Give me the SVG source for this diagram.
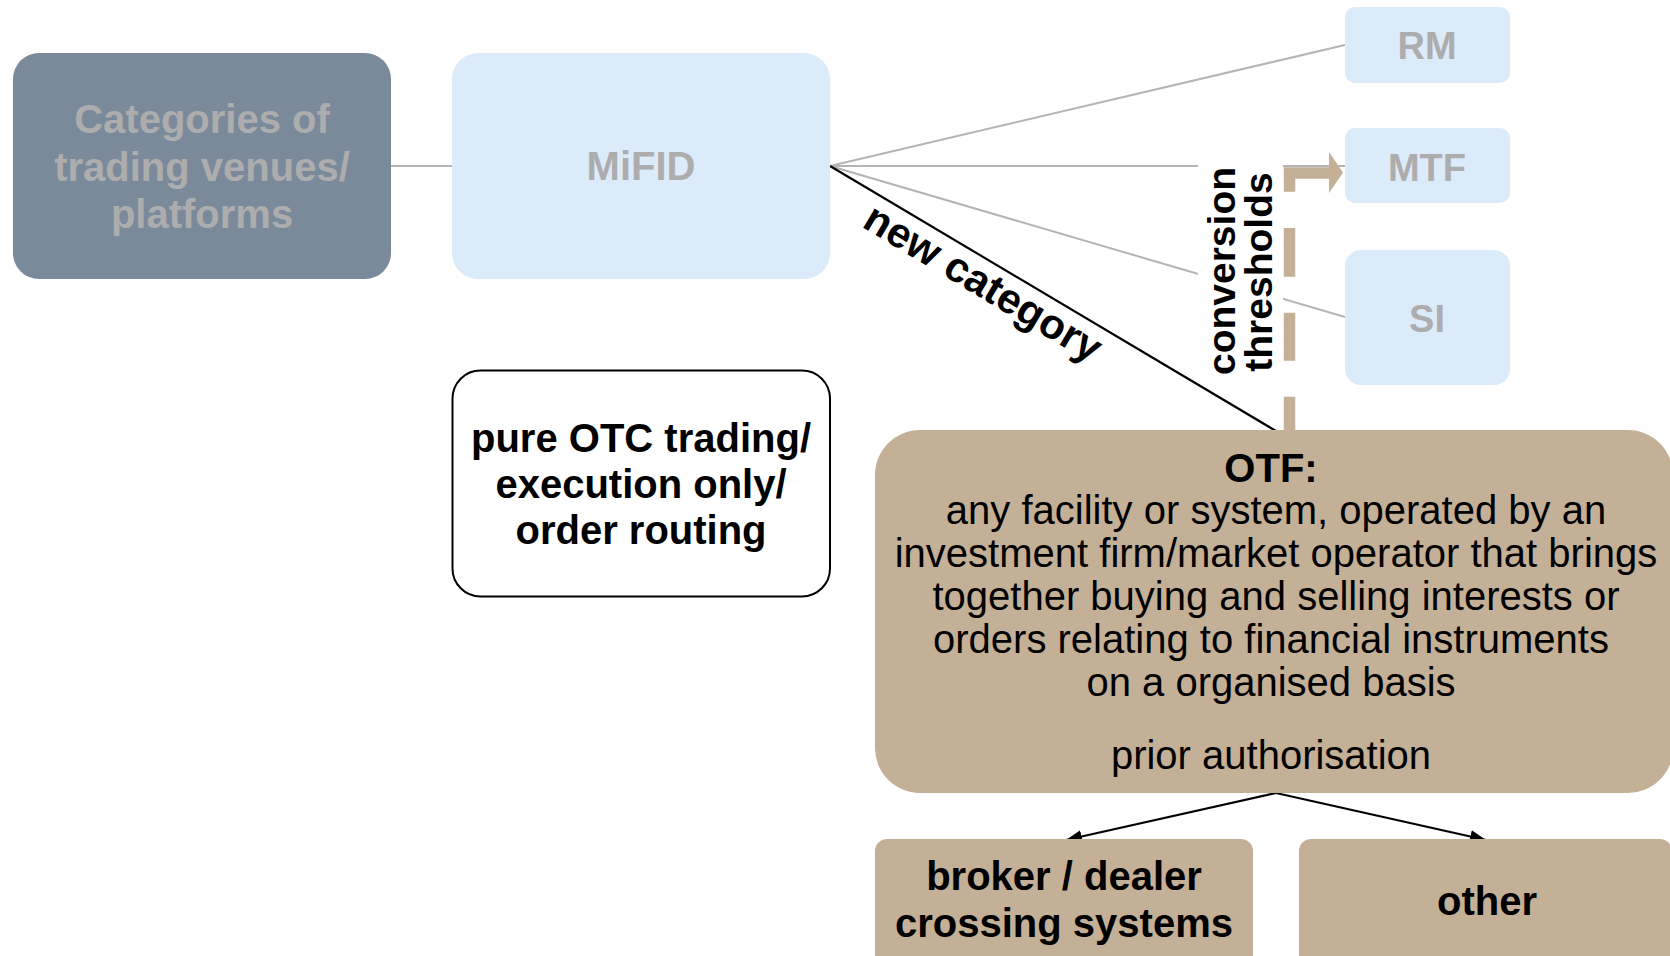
<svg xmlns="http://www.w3.org/2000/svg" width="1670" height="956" viewBox="0 0 1670 956">
  <style>
    .t { font-family: "Liberation Sans", Arial, Helvetica, sans-serif; text-anchor: middle; }
    .b { font-weight: bold; }
    .grey { fill: #adadad; }
    .blk { fill: #000000; }
    .slate { fill: #7b8a9b; }
    .sky { fill: #dcebf9; }
    .tan { fill: #c4b096; }
    .gl { stroke: #b4b4b4; stroke-width: 2; fill: none; }
    .bl { stroke: #000000; stroke-width: 2.2; fill: none; }
  </style>
  <defs>
    <marker id="ah" markerUnits="userSpaceOnUse" markerWidth="17" markerHeight="13" refX="16" refY="6.5" orient="auto">
      <path d="M0,0 L16,6.5 L0,13 Z" fill="#000000"/>
    </marker>
  </defs>
  <rect width="1670" height="956" fill="#ffffff"/>

  <g id="connectors">
    <line class="gl" x1="391" y1="166" x2="452" y2="166"/>
    <line class="gl" x1="830" y1="166" x2="1345" y2="45"/>
    <line class="gl" x1="830" y1="166" x2="1345" y2="166"/>
    <line class="gl" x1="830" y1="166" x2="1345" y2="317"/>
    <line class="bl" x1="830" y1="166" x2="1276" y2="431"/>
    <path d="M1289.5,445 V173 H1330" fill="none" stroke="#c4b096" stroke-width="11.5" stroke-linejoin="miter" stroke-dasharray="48.3 36 48 36 48.7 36.3 80 0"/>
    <polygon points="1329,152 1343,172.5 1329,193" fill="#c4b096"/>
    <line class="bl" x1="1276" y1="793" x2="1066" y2="840" marker-end="url(#ah)"/>
    <line class="bl" x1="1276" y1="793" x2="1486" y2="840" marker-end="url(#ah)"/>
  </g>

  <g id="label-conversion">
    <rect x="1198" y="152" width="85" height="230" fill="#ffffff"/>
    <text class="t b blk" font-size="39" transform="translate(1235,271) rotate(-90)">conversion</text>
    <text class="t b blk" font-size="39" transform="translate(1272,272) rotate(-90)">thresholds</text>
  </g>

  <g id="label-new-category">
    <text class="t b blk" font-size="42" transform="translate(976,295) rotate(30.76)">new category</text>
  </g>

  <g id="node-categories">
    <rect class="slate" x="13" y="53" width="378" height="226" rx="26"/>
    <text class="t b grey" font-size="40" x="202" y="133">Categories of</text>
    <text class="t b grey" font-size="40" x="202" y="181">trading venues/</text>
    <text class="t b grey" font-size="40" x="202" y="228">platforms</text>
  </g>

  <g id="node-mifid">
    <rect class="sky" x="452" y="53" width="378" height="226" rx="26"/>
    <text class="t b grey" font-size="40" x="641" y="180">MiFID</text>
  </g>

  <g id="node-rm">
    <rect class="sky" x="1345" y="7" width="165" height="76" rx="10"/>
    <text class="t b grey" font-size="38" x="1427" y="59">RM</text>
  </g>

  <g id="node-mtf">
    <rect class="sky" x="1345" y="128" width="165" height="75" rx="10"/>
    <text class="t b grey" font-size="38" x="1427" y="181">MTF</text>
  </g>

  <g id="node-si">
    <rect class="sky" x="1345" y="250" width="165" height="135" rx="16"/>
    <text class="t b grey" font-size="38" x="1427" y="332">SI</text>
  </g>

  <g id="node-otc">
    <rect x="452.5" y="370.5" width="377.5" height="226" rx="28" fill="#ffffff" stroke="#000000" stroke-width="2"/>
    <text class="t b blk" font-size="40" x="641" y="452">pure OTC trading/</text>
    <text class="t b blk" font-size="40" x="641" y="498">execution only/</text>
    <text class="t b blk" font-size="40" x="641" y="544">order routing</text>
  </g>

  <g id="node-otf">
    <rect class="tan" x="875" y="430" width="798" height="363" rx="45"/>
    <text class="t b blk" font-size="40" x="1271" y="481.5">OTF:</text>
    <text class="t blk" font-size="40" x="1276" y="523.5">any facility or system, operated by an</text>
    <text class="t blk" font-size="40" x="1276" y="566.5">investment firm/market operator that brings</text>
    <text class="t blk" font-size="40" x="1276" y="609.5">together buying and selling interests or</text>
    <text class="t blk" font-size="40" x="1271" y="652.5">orders relating to financial instruments</text>
    <text class="t blk" font-size="40" x="1271" y="695.5">on a organised basis</text>
    <text class="t blk" font-size="40" x="1271" y="768.5">prior authorisation</text>
  </g>

  <g id="node-broker">
    <rect class="tan" x="875" y="839" width="378" height="130" rx="12"/>
    <text class="t b blk" font-size="40" x="1064" y="890">broker / dealer</text>
    <text class="t b blk" font-size="40" x="1064" y="937">crossing systems</text>
  </g>

  <g id="node-other">
    <rect class="tan" x="1299" y="839" width="373" height="130" rx="12"/>
    <text class="t b blk" font-size="40" x="1487" y="915">other</text>
  </g>
</svg>
